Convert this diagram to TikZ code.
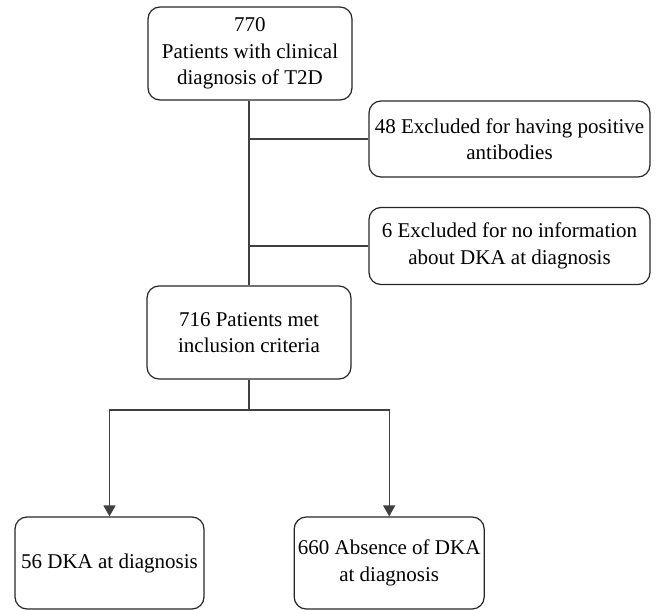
\documentclass[tikz,border=0pt]{standalone}
\usepackage{fontspec}
\setmainfont{Liberation Serif}
\usetikzlibrary{positioning,arrows.meta}

\begin{document}
\begin{tikzpicture} [
                x=1pt, y=-1pt,
                font=\fontsize{21}{26.5}\selectfont,
                stepbox/.style={
                    rectangle,
                    rounded corners=12pt,
                    draw=black!85,
                    line width=1.2pt,
                    align=center,
                    inner sep=0pt
                },
                link/.style={
                    draw=black!75,
                    line width=1.4pt
                },
                arrowlink/.style={
                    link,
                    -{Triangle[length=11pt,width=12pt]}
                }
            ]
                \useasboundingbox (0,0) rectangle (657,610);
                \node[stepbox, minimum width=204pt, minimum height=93pt] (total) at (250,53.5)
                    {770\\Patients with clinical\\diagnosis of T2D};
                \node[stepbox, minimum width=281pt, minimum height=76pt] (excl1) at (509.5,139)
                    {48 Excluded for having positive\\antibodies};
                \node[stepbox, minimum width=281pt, minimum height=77pt] (excl2) at (509.5,246)
                    {6 Excluded for no information\\about DKA at diagnosis};
                \node[stepbox, minimum width=204pt, minimum height=93pt] (met) at (249,332.5)
                    {716 Patients met\\inclusion criteria};
                \node[stepbox, minimum width=189pt, minimum height=92pt] (dka) at (109.5,563)
                    {56 DKA at diagnosis};
                \node[stepbox, minimum width=190pt, minimum height=92pt] (nodka) [right=89pt of dka]
                    {660 Absence of DKA\\at diagnosis};
                \coordinate (split) at (met.south |- 0,410);
                \draw[link] (total.south -| met.south) -- (met.north);
                \draw[link] (met.north |- excl1.west) -- (excl1.west);
                \draw[link] (met.north |- excl2.west) -- (excl2.west);
                \draw[link] (met.south) -- (split);
                \draw[arrowlink] (split) -| (dka.north);
                \draw[arrowlink] (split) -| (nodka.north);
            \end{tikzpicture}
\end{document}
